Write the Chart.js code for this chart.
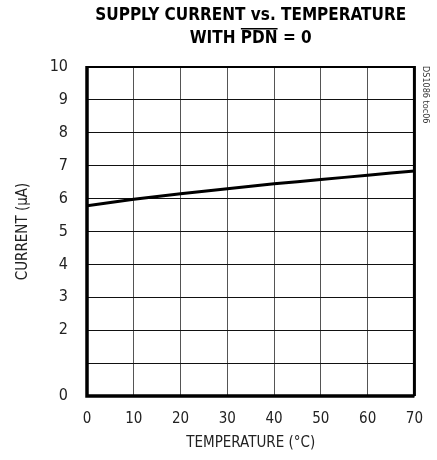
<!DOCTYPE html>
<html>
<head>
<meta charset="utf-8">
<script src="https://cdn.jsdelivr.net/npm/chart.js@4.4.1/dist/chart.umd.min.js"></script>
<style>
  html, body { margin: 0; padding: 0; background: #fff; }
  #wrap { width: 437px; height: 460px; position: relative; }
</style>
</head>
<body>
<div id="wrap"><canvas id="chart"></canvas></div>
<script>
// data
const temps = [0, 10, 20, 30, 40, 50, 60, 70];
const current = [5.78, 5.98, 6.15, 6.3, 6.45, 6.58, 6.71, 6.84];
const xTickLabels = ["0", "10", "20", "30", "40", "50", "60", "70"];
const yTickLabels = ["0", "", "2", "3", "4", "5", "6", "7", "8", "9", "10"];

const narrow = "'Liberation Sans Narrow', 'Arial Narrow', 'DejaVu Sans Condensed', sans-serif";

// title with overline on PDN, side code, frame
const decor = {
  id: "decor",
  afterDraw(chart) {
    const { ctx, chartArea: a } = chart;
    const cx = (a.left + a.right) / 2;
    ctx.save();
    ctx.fillStyle = "#000";
    ctx.textAlign = "center";
    ctx.textBaseline = "middle";
    ctx.font = "bold 17px " + narrow;
    ctx.fillText("SUPPLY CURRENT vs. TEMPERATURE", cx, 16);
    const l2 = "WITH PDN = 0";
    ctx.fillText(l2, cx, 39);
    // overline over PDN
    const full = ctx.measureText(l2).width;
    const pre = ctx.measureText("WITH ").width;
    const pdn = ctx.measureText("PDN").width;
    const x0 = cx - full / 2 + pre;
    ctx.fillRect(x0, 28, pdn, 1.5);

    // side code
    ctx.font = "9px " + narrow;
    ctx.fillStyle = "#333";
    ctx.translate(425, 66);
    ctx.rotate(Math.PI / 2);
    ctx.textAlign = "left";
    ctx.fillText("DS1086 toc06", 0, 0);
    ctx.restore();

    // frame
    ctx.save();
    ctx.strokeStyle = "#000";
    ctx.lineWidth = 2;
    ctx.beginPath();
    ctx.moveTo(a.left, a.top);
    ctx.lineTo(a.right, a.top);
    ctx.stroke();
    ctx.lineWidth = 3.5;
    ctx.beginPath();
    ctx.moveTo(a.left, a.top - 1);
    ctx.lineTo(a.left, a.bottom);
    ctx.lineTo(a.right, a.bottom);
    ctx.stroke();
    ctx.lineWidth = 3;
    ctx.beginPath();
    ctx.moveTo(a.right, a.top - 1);
    ctx.lineTo(a.right, a.bottom);
    ctx.stroke();
    ctx.restore();
  }
};

new Chart(document.getElementById("chart"), {
  type: "line",
  data: {
    datasets: [
      {
        data: temps.map((t, i) => ({ x: t, y: current[i] })),
        borderColor: "#000",
        borderWidth: 3,
        pointRadius: 0,
        tension: 0.2,
        fill: false,
      },
    ],
  },
  options: {
    responsive: true,
    maintainAspectRatio: false,
    animation: false,
    layout: { padding: { top: 67, right: 19, left: 0, bottom: 0 } },
    plugins: {
      legend: { display: false },
      tooltip: { enabled: false },
    },
    scales: {
      x: {
        type: "linear",
        min: 0,
        max: 70,
        border: { display: false },
        grid: { color: "#555", lineWidth: 1, drawTicks: false },
        afterBuildTicks: (s) => { s.ticks = temps.map((v) => ({ value: v })); },
        afterFit: (s) => { s.height = 64; },
        ticks: {
          padding: 14,
          color: "#222",
          font: { family: narrow, size: 15 },
          callback: (v) => xTickLabels[temps.indexOf(v)],
          maxRotation: 0,
        },
        title: {
          display: true,
          text: "TEMPERATURE (°C)",
          color: "#222",
          font: { family: narrow, size: 15 },
          padding: { top: 0, bottom: 8 },
        },
      },
      y: {
        min: 0,
        max: 10,
        border: { display: false },
        grid: { color: "#111", lineWidth: 1, drawTicks: false },
        afterFit: (s) => { s.width = 87; },
        ticks: {
          stepSize: 1,
          padding: 19,
          color: "#222",
          font: { family: narrow, size: 16 },
          callback: (v) => yTickLabels[v],
        },
        title: {
          display: true,
          text: "CURRENT (µA)",
          color: "#222",
          font: { family: narrow, size: 15 },
          padding: { top: 14, bottom: 0 },
        },
      },
    },
  },
  plugins: [decor],
});
</script>
</body>
</html>
